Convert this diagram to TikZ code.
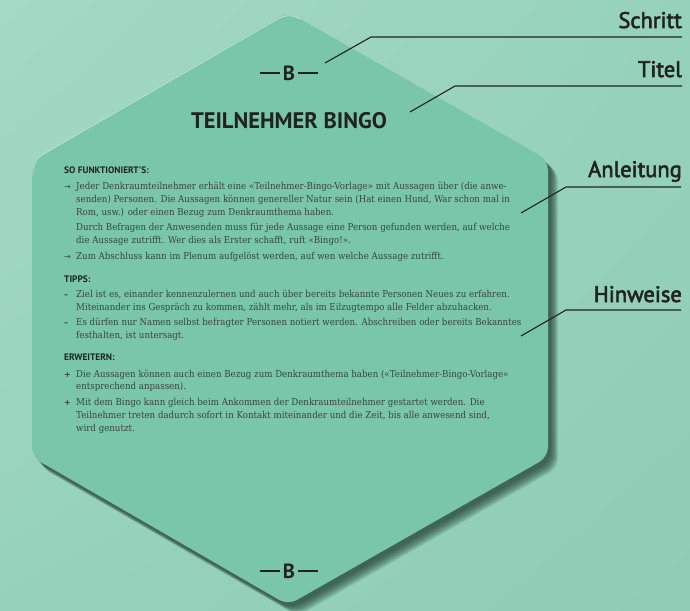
\documentclass[tikz,border=0pt]{standalone}
\usepackage{fontspec}
\usetikzlibrary{shadings}
\setmainfont{DejaVu Serif}
\newfontfamily\headfont{PT Sans}
\newfontfamily\labelfont[FakeBold=2.6]{PT Sans}
\newfontfamily\bodyfont[FakeStretch=0.91]{DejaVu Serif}
\newfontfamily\symfont{DejaVu Sans}
\definecolor{bgA}{HTML}{A4D9C5}
\definecolor{bgB}{HTML}{96D2BA}
\definecolor{bgC}{HTML}{8FCDB4}
\definecolor{hexc}{HTML}{79C6A8}
\definecolor{shadc}{HTML}{1E3A2E}
\definecolor{inkc}{HTML}{222222}
\definecolor{bodyc}{HTML}{3A4540}
\newcommand{\stepdash}{\rule[6.5pt]{20pt}{2pt}}
\tikzset{
  body/.style={font=\bodyfont\fontsize{9.5}{11}\selectfont, text=bodyc, inner sep=0pt, anchor=base west},
  bulletmark/.style={font=\symfont\bfseries\fontsize{8}{10}\selectfont, text=bodyc, inner sep=0pt, anchor=base west},
  arrowmark/.style={font=\symfont\fontsize{8}{10}\selectfont, text=bodyc, inner sep=0pt, anchor=base west},
  head/.style={font=\headfont\bfseries\fontsize{9.4}{10}\selectfont, text=inkc, inner sep=0pt, anchor=base west},
  lbl/.style={font=\labelfont\fontsize{22.5}{24}\selectfont, text=inkc, inner sep=0pt, anchor=base east},
  stepmark/.style={font=\headfont\bfseries\fontsize{20.5}{22}\selectfont, text=inkc, inner sep=0pt, anchor=base},
  leader/.style={draw=inkc, line width=1.1pt},
  hexpath/.style={rounded corners=10pt}
}
\begin{document}
\begin{tikzpicture}[x=1pt,y=-1pt]
\useasboundingbox (0,0) rectangle (690,610);
% background
\shade[upper left=bgA, upper right=bgB, lower left=bgB, lower right=bgC] (0,0) rectangle (690,610);
% shadow
\foreach \i in {1,...,10}{
  \fill[shadc, opacity=0.11, hexpath, shift={(2+\i*0.8,3+\i*0.8)}]
    (288,12) -- (548,160) -- (548,457) -- (288,605) -- (32,457) -- (32,160) -- cycle;
}
% hexagon
\fill[hexc, hexpath] (288,12) -- (548,160) -- (548,457) -- (288,605) -- (32,457) -- (32,160) -- cycle;
\draw[white, opacity=0.55, line width=0.8pt, rounded corners=10pt] (33,175) -- (33,160) -- (288,13) -- (300,19);

% step markers and title
\node[stepmark] (stepTop) at (289,81) {\stepdash\hspace{3pt}B\hspace{3pt}\stepdash};
\node[font=\headfont\bfseries\fontsize{22.5}{24}\selectfont, text=inkc, inner sep=0pt, anchor=base] (title) at (289,128) {TEILNEHMER BINGO};
\node[stepmark] (stepBot) at (289,578) {\stepdash\hspace{3pt}B\hspace{3pt}\stepdash};

% section 1
\node[head] (h1) at (64,173) {SO FUNKTIONIERT'S:};
\node[arrowmark] (m1) at (64,189) {→};
\node[body] (t1a) at (76,189) {Jeder Denkraumteilnehmer erhält eine «Teilnehmer-Bingo-Vorlage» mit Aussagen über (die anwe-};
\node[body] (t1b) at (76,202) {senden) Personen. Die Aussagen können genereller Natur sein (Hat einen Hund, War schon mal in};
\node[body] (t1c) at (76,215) {Rom, usw.) oder einen Bezug zum Denkraumthema haben.};
\node[body] (t1d) at (76,230) {Durch Befragen der Anwesenden muss für jede Aussage eine Person gefunden werden, auf welche};
\node[body] (t1e) at (76,243) {die Aussage zutrifft. Wer dies als Erster schafft, ruft «Bingo!».};
\node[arrowmark] (m2) at (64,259) {→};
\node[body] (t2a) at (76,259) {Zum Abschluss kann im Plenum aufgelöst werden, auf wen welche Aussage zutrifft.};

% section 2
\node[head] (h2) at (64,282) {TIPPS:};
\node[bulletmark] (m3) at (64,297) {–};
\node[body] (t3a) at (76,297) {Ziel ist es, einander kennenzulernen und auch über bereits bekannte Personen Neues zu erfahren.};
\node[body] (t3b) at (76,310) {Miteinander ins Gespräch zu kommen, zählt mehr, als im Eilzugtempo alle Felder abzuhacken.};
\node[bulletmark] (m4) at (64,325) {–};
\node[body] (t4a) at (76,325) {Es dürfen nur Namen selbst befragter Personen notiert werden. Abschreiben oder bereits Bekanntes};
\node[body] (t4b) at (76,338) {festhalten, ist untersagt.};

% section 3
\node[head] (h3) at (64,360) {ERWEITERN:};
\node[bulletmark] (m5) at (64,377) {+};
\node[body] (t5a) at (76,377) {Die Aussagen können auch einen Bezug zum Denkraumthema haben («Teilnehmer-Bingo-Vorlage»};
\node[body] (t5b) at (76,389) {entsprechend anpassen).};
\node[bulletmark] (m6) at (64,405) {+};
\node[body] (t6a) at (76,405) {Mit dem Bingo kann gleich beim Ankommen der Denkraumteilnehmer gestartet werden. Die};
\node[body] (t6b) at (76,418) {Teilnehmer treten dadurch sofort in Kontakt miteinander und die Zeit, bis alle anwesend sind,};
\node[body] (t6c) at (76,431) {wird genutzt.};

% labels and leaders
\node[lbl] (lSchritt) at (682,28) {Schritt};
\node[lbl] (lTitel) at (682,77) {Titel};
\node[lbl] (lAnl) at (682,177) {Anleitung};
\node[lbl] (lHinw) at (682,302) {Hinweise};

\coordinate (s1) at (682,37); \coordinate (s2) at (371,37); \coordinate (s3) at (325,63);
\coordinate (ti1) at (682,86); \coordinate (ti2) at (455,86); \coordinate (ti3) at (410,112);
\coordinate (a1) at (681,187); \coordinate (a2) at (566,187); \coordinate (a3) at (521,213);
\coordinate (hw1) at (681,310); \coordinate (hw2) at (566,310); \coordinate (hw3) at (521,336);
\draw[leader] (s1) -- (s2) -- (s3);
\draw[leader] (ti1) -- (ti2) -- (ti3);
\draw[leader] (a1) -- (a2) -- (a3);
\draw[leader] (hw1) -- (hw2) -- (hw3);
\end{tikzpicture}
\end{document}
